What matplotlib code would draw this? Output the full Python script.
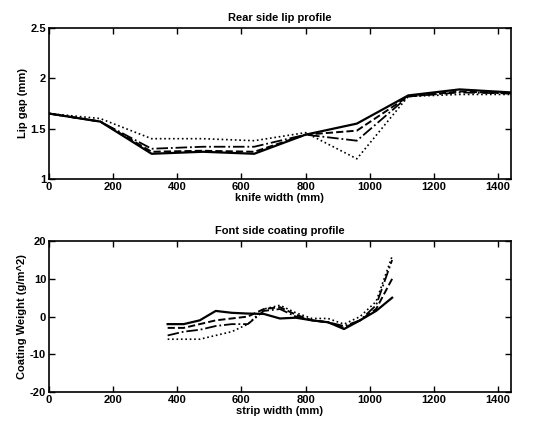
import matplotlib
matplotlib.use("Agg")
import matplotlib.pyplot as plt

plt.rcParams['font.family'] = ['Liberation Sans', 'DejaVu Sans']
plt.rcParams['font.weight'] = 'bold'

# Top: rear side lip profile
knife_x = [0, 160, 320, 480, 640, 800, 960, 1120, 1280, 1440]
lip_solid = [1.65, 1.57, 1.25, 1.27, 1.25, 1.44, 1.55, 1.83, 1.89, 1.86]
lip_dashed = [1.65, 1.57, 1.27, 1.28, 1.27, 1.44, 1.48, 1.82, 1.87, 1.85]
lip_dashdot = [1.65, 1.57, 1.30, 1.32, 1.32, 1.44, 1.38, 1.82, 1.86, 1.85]
lip_dotted = [1.65, 1.60, 1.40, 1.40, 1.38, 1.46, 1.20, 1.82, 1.84, 1.84]

# Bottom: front side coating profile
strip_x = [370, 420, 470, 520, 570, 620, 670, 720, 770, 820, 870, 920, 970, 1020, 1070]
cw_solid = [-2, -2, -1, 1.5, 1, 0.8, 0.7, -0.5, -0.3, -1, -1.5, -3.3, -1, 1.5, 5]
cw_dashed = [-3, -3, -2, -1, -0.5, 0, 2, 2.5, 0.5, -1, -1.5, -3, -1, 2, 10]
cw_dashdot = [-5, -4, -3.5, -2.5, -2, -2, 1.5, 2, 0, -1, -1.5, -2.5, -1, 3, 15]
cw_dotted = [-6, -6, -6, -5, -4, -2, 2, 3, 1, -0.5, -0.5, -2, 0, 4, 16]

fig = plt.figure(figsize=(5.42, 4.25), dpi=100)
ax1 = fig.add_axes([0.0904, 0.579, 0.852, 0.355])
ax2 = fig.add_axes([0.0904, 0.0776, 0.852, 0.355])

styles = [('-', 1.6), ('--', 1.4), ('-.', 1.3), (':', 1.2)]

for ys, (ls, lw) in zip([lip_solid, lip_dashed, lip_dashdot, lip_dotted], styles):
    ax1.plot(knife_x, ys, color='black', linestyle=ls, linewidth=lw)
for ys, (ls, lw) in zip([cw_solid, cw_dashed, cw_dashdot, cw_dotted], styles):
    ax2.plot(strip_x, ys, color='black', linestyle=ls, linewidth=lw)

ax1.set_xlim(0, 1440)
ax1.set_ylim(1, 2.5)
ax1.set_xticks([0, 200, 400, 600, 800, 1000, 1200, 1400])
ax1.set_yticks([1, 1.5, 2, 2.5])
ax1.set_yticklabels(['1', '1.5', '2', '2.5'])
ax1.set_title('Rear side lip profile', fontsize=8, fontweight='bold', pad=5)
ax1.set_xlabel('knife width (mm)', fontsize=8, fontweight='bold', labelpad=1)
ax1.set_ylabel('Lip gap (mm)', fontsize=8, fontweight='bold', labelpad=2)

ax2.set_xlim(0, 1440)
ax2.set_ylim(-20, 20)
ax2.set_xticks([0, 200, 400, 600, 800, 1000, 1200, 1400])
ax2.set_yticks([-20, -10, 0, 10, 20])
ax2.set_yticklabels(['-20', '-10', '0', '10', '20'])
ax2.set_title('Font side coating profile', fontsize=8, fontweight='bold', pad=5)
ax2.set_xlabel('strip width (mm)', fontsize=8, fontweight='bold', labelpad=1)
ax2.set_ylabel('Coating Weight (g/m^2)', fontsize=8, fontweight='bold', labelpad=2)

for ax in (ax1, ax2):
    ax.tick_params(direction='in', top=True, right=True, labelsize=8, length=4, width=1, pad=2)
    for lbl in ax.get_xticklabels() + ax.get_yticklabels():
        lbl.set_fontweight('bold')
    for sp in ax.spines.values():
        sp.set_linewidth(1.2)

fig.savefig('out.png', dpi=100)
